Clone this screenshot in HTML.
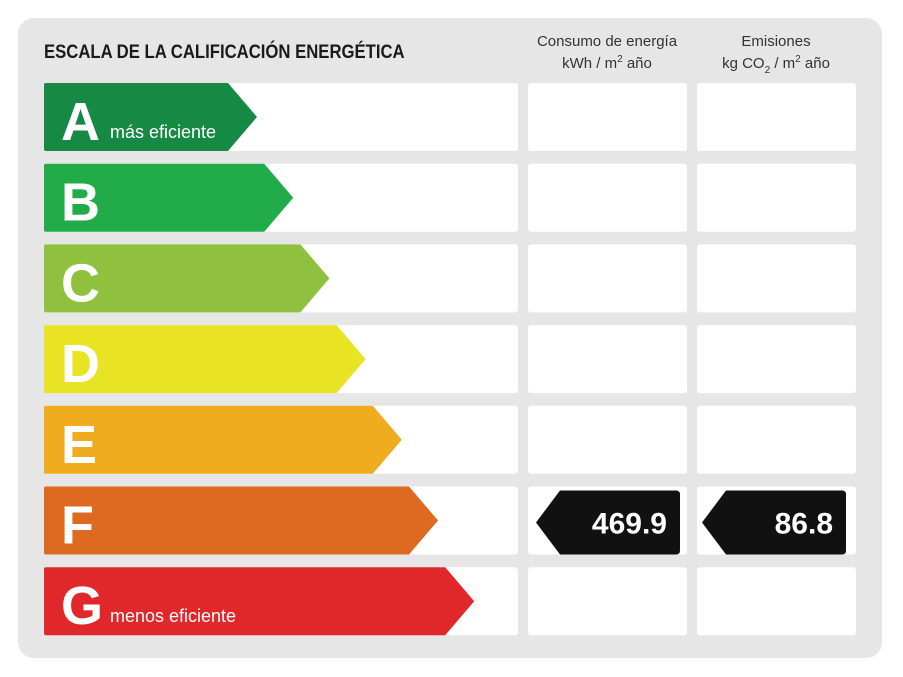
<!DOCTYPE html>
<html><head><meta charset="utf-8"><style>
html,body{margin:0;padding:0;background:#fff;width:903px;height:677px;overflow:hidden}
svg{display:block;font-family:"Liberation Sans",Arial,sans-serif}
</style></head><body>
<svg id="chart" width="903" height="677" viewBox="0 0 903 677">
<rect x="18" y="18" width="864" height="640" rx="16" fill="#e6e6e6"/>
<text x="44" y="58" font-size="19" font-weight="bold" fill="#1a1a1a" transform="translate(44 0) scale(0.88 1) translate(-44 0)">ESCALA DE LA CALIFICACIÓN ENERGÉTICA</text>
<g font-size="15" fill="#333" text-anchor="middle">
<text x="607" y="46">Consumo de energía</text>
<text x="607" y="68">kWh / m<tspan font-size="10" dy="-6">2</tspan><tspan dy="6"> año</tspan></text>
</g>
<g font-size="15" fill="#333" text-anchor="middle">
<text x="776" y="46">Emisiones</text>
<text x="776" y="68">kg CO<tspan font-size="10" dy="5">2</tspan><tspan dy="-5"> / m</tspan><tspan font-size="10" dy="-6">2</tspan><tspan dy="6"> año</tspan></text>
</g>
<g id="rows"></g>
</svg>
<script>
const ratings = ["A","B","C","D","E","F","G"];
const ratingColors = ["#168a45","#22ab49","#8fc13e","#e8e323","#eeac1e","#de6a22","#e0282a"];
const ratingSubtitles = ["más eficiente","","","","","","menos eficiente"];
const consumptionValue = 469.9;
const emissionsValue = 86.8;
const currentConsumptionRating = "F";
const currentEmissionsRating = "F";

const NS = "http://www.w3.org/2000/svg";
const g = document.getElementById("rows");
const rowY = i => 83 + i * 80.7;
const rowH = 68;
const arrowEnd = i => 257 + i * 36.2;
function mk(tag, attrs, parent){const e=document.createElementNS(NS,tag);for(const k in attrs)e.setAttribute(k,attrs[k]);parent.appendChild(e);return e;}

ratings.forEach((r,i)=>{
  const y = rowY(i);
  const row = mk("g",{},g);
  
  
  const b1 = mk("rect",{x:44,y:y,width:474,height:rowH,rx:3,fill:"#fff"},row);
  
  
  const b2 = mk("rect",{x:528,y:y,width:159,height:rowH,rx:3,fill:"#fff"},row);
  
  
  const b3 = mk("rect",{x:697,y:y,width:159,height:rowH,rx:3,fill:"#fff"},row);
  
  
  const tip = arrowEnd(i), body = tip - 29;
  const arr = mk("path",{d:`M44 ${y+2} Q44 ${y} 46 ${y} L${body} ${y} L${tip} ${y+rowH/2} L${body} ${y+rowH} L46 ${y+rowH} Q44 ${y+rowH} 44 ${y+rowH-2} Z`,fill:ratingColors[i]},row);
  
  
  const t = mk("text",{x:61,y:y+57,"font-size":54,"font-weight":"bold",fill:"#fff"},row);
  t.textContent = r;
  
  
  if (ratingSubtitles[i]) {
    const s = mk("text",{x:i===0?110:110,y:y+55,"font-size":18,fill:"#fff"},row);
    s.textContent = ratingSubtitles[i];
    
    
  }
  function indicator(x0, val, name){
    const yy = y + 4, h = 64, bx = x0 + 24, ex = x0 + 144;
    const p = mk("path",{d:`M${x0} ${yy+h/2} L${bx} ${yy} L${ex-4} ${yy} Q${ex} ${yy} ${ex} ${yy+4} L${ex} ${yy+h-4} Q${ex} ${yy+h} ${ex-4} ${yy+h} L${bx} ${yy+h} Z`,fill:"#111"},row);
    
    
    const tx = mk("text",{x:ex-13,y:yy+43,"font-size":30,"font-weight":"bold",fill:"#fff","text-anchor":"end"},row);
    tx.textContent = val;
    
    
  }
  if (r === currentConsumptionRating) indicator(536, consumptionValue.toFixed(1), 'consumption');
  if (r === currentEmissionsRating) indicator(702, emissionsValue.toFixed(1), 'emissions');
});
</script>
</body></html>
